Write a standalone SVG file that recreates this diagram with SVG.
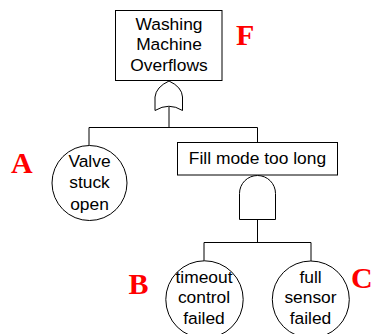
<svg xmlns="http://www.w3.org/2000/svg" width="377" height="334" viewBox="0 0 377 334">
<style>
.box{fill:#fff;stroke:#000;stroke-width:1}
.gate{fill:#fff;stroke:#000;stroke-width:1}
.t{font-family:"Liberation Sans",Arial,sans-serif;font-size:17.4px;fill:#000;text-anchor:middle}
.lbl{font-family:"Liberation Serif","Times New Roman",serif;font-weight:bold;font-size:30px;fill:#ff0000}
.ln{fill:none;stroke:#000;stroke-width:1}
</style>
<rect width="377" height="334" fill="#fff"/>
<g id="connectors">
<path class="ln" d="M169,107 V127.5 M89,127.5 H257.5 M89,127.5 V145.5 M257.5,127.5 V142.5 M257.5,219.5 V242.5 M204,242.5 H311 M204,242.5 V261 M311,242.5 V261"/>
</g>
<g id="top">
<rect class="box" x="115.5" y="10.5" width="106.5" height="70"/>
<text class="t" x="169" y="29.5">Washing</text>
<text class="t" x="169" y="50">Machine</text>
<text class="t" x="169" y="70.5">Overflows</text>
</g>
<g id="or-gate">
<path class="gate" d="M169,81 Q156,87 155,97 L155,110.5 Q169,102 182.5,110.5 L182.5,97 Q182,87 169,81 Z"/>
</g>
<g id="valve">
<circle class="box" cx="89.5" cy="183" r="37.5"/>
<text class="t" x="89.5" y="167.3">Valve</text>
<text class="t" x="89.5" y="188.3">stuck</text>
<text class="t" x="89.5" y="209.5">open</text>
</g>
<g id="fill">
<rect class="box" x="177.5" y="142.5" width="160" height="32.5"/>
<text class="t" x="257.5" y="164.3">Fill mode too long</text>
</g>
<g id="and-gate">
<path class="gate" d="M239.5,219.5 L239.5,193.5 A18,18 0 0 1 275.5,193.5 L275.5,219.5 Z"/>
</g>
<g id="timeout">
<circle class="box" cx="204.5" cy="299.5" r="38.7"/>
<text class="t" x="204" y="282.7">timeout</text>
<text class="t" x="204" y="303.3">control</text>
<text class="t" x="204" y="324">failed</text>
</g>
<g id="sensor">
<circle class="box" cx="310.8" cy="299.5" r="38.5"/>
<text class="t" x="310.5" y="282.7">full</text>
<text class="t" x="310.5" y="303.3">sensor</text>
<text class="t" x="310.5" y="324">failed</text>
</g>
<g id="labels">
<text class="lbl" x="236" y="45">F</text>
<text class="lbl" x="11" y="172.7">A</text>
<text class="lbl" x="128.5" y="294">B</text>
<text class="lbl" x="351" y="288">C</text>
</g>
</svg>
